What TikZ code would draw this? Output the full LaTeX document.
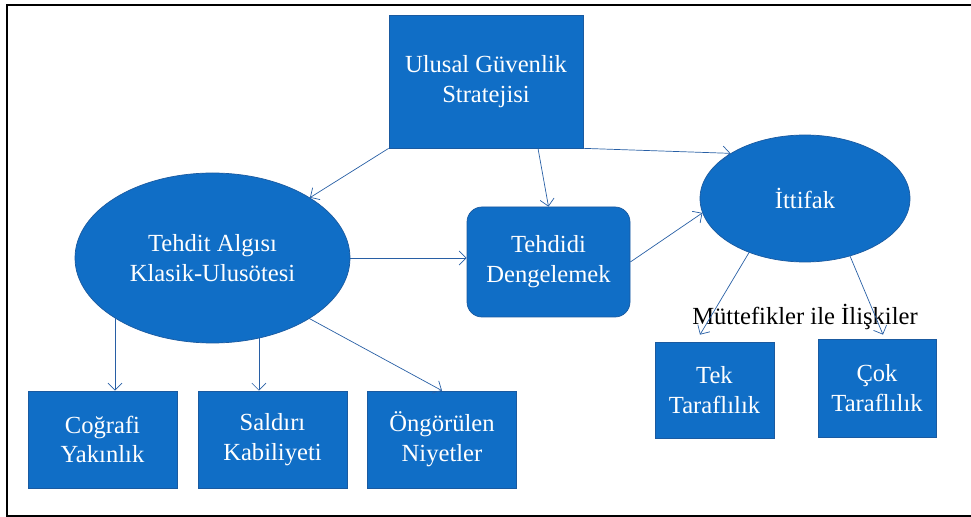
\documentclass[tikz,border=0pt]{standalone}
\usepackage{fontspec}
\setmainfont{Liberation Serif}
\usetikzlibrary{shapes.geometric,arrows.meta}
\definecolor{kutumavi}{RGB}{16,110,198}
\definecolor{kenarmavi}{RGB}{26,90,160}
\definecolor{okmavi}{RGB}{40,95,165}
\begin{document}
\begin{tikzpicture}[
	kutu/.style={rectangle, draw=kenarmavi, fill=kutumavi, text=white, align=center, inner sep=0pt, font=\fontsize{14}{17}\selectfont},
	elips/.style={ellipse, draw=kenarmavi, fill=kutumavi, text=white, align=center, inner sep=0pt, font=\fontsize{14}{17}\selectfont},
	ok/.style={-{Straight Barb[length=4pt, width=8pt]}, draw=okmavi, thin}
	] %Şema başlangıcı
	\useasboundingbox (0,0) rectangle (19.42,-10.34);
		%Çerçeve
	\draw[line width=1.2pt] (19.42,-0.1) -- (0.14,-0.1) -- (0.14,-10.32) -- (19.42,-10.32); %Sağ kenar yok
		%Düğümler
	\node[kutu, minimum width=3.88cm, minimum height=2.66cm] (strat) at (9.72,-1.63) {Ulusal Güvenlik\\Stratejisi}; %Üst kutu
	\node[elips, minimum width=5.5cm, minimum height=3.4cm] (tehdit) at (4.25,-5.16) {Tehdit Algısı\\Klasik-Ulusötesi}; %Sol elips
	\node[kutu, rounded corners=0.3cm, minimum width=3.26cm, minimum height=2.2cm] (deng) at (10.97,-5.24) {Tehdidi\\Dengelemek}; %Orta kutu
	\node[elips, minimum width=4.2cm, minimum height=2.54cm] (ittifak) at (16.1,-3.97) {İttifak}; %Sağ elips
	\node[kutu, minimum width=2.98cm, minimum height=1.94cm] (cog) at (2.05,-8.79) {Coğrafi\\Yakınlık};
	\node[kutu, minimum width=2.98cm, minimum height=1.94cm] (sal) at (5.45,-8.79) {Saldırı\\Kabiliyeti};
	\node[kutu, minimum width=2.98cm, minimum height=1.94cm] (ong) at (8.84,-8.79) {Öngörülen\\Niyetler};
	\node[kutu, minimum width=2.38cm, minimum height=1.92cm] (tek) at (14.29,-7.8) {Tek\\Taraflılık};
	\node[kutu, minimum width=2.36cm, minimum height=1.96cm] (cok) at (17.54,-7.76) {Çok\\Taraflılık};
	\node[anchor=base, font=\fontsize{14}{17}\selectfont] (muttefik) at (16.1,-6.5) {Müttefikler ile İlişkiler}; %Siyah yazı
		%Oklar
	\draw[ok] (strat.south west) -- (tehdit.north east);
	\draw[ok] ([xshift=1.04cm]strat.south) -- (deng.north);
	\draw[ok] (strat.south east) -- (ittifak.north west);
	\draw[ok] (tehdit.east) -- (tehdit.east -| deng.west);
	\draw[ok] (deng.east) -- (ittifak.188);
	\draw[ok] (ittifak.224) -- ([xshift=-0.29cm, yshift=0.14cm]tek.north);
	\draw[ok] (ittifak.-52) -- ([xshift=0.12cm, yshift=0.08cm]cok.north);
	\draw[ok] (tehdit.south west) -- (tehdit.south west |- cog.north);
	\draw[ok] (tehdit.-60) -- (tehdit.-60 |- sal.north);
	\draw[ok] (tehdit.-32) -- (ong.north);
\end{tikzpicture}
\end{document}
